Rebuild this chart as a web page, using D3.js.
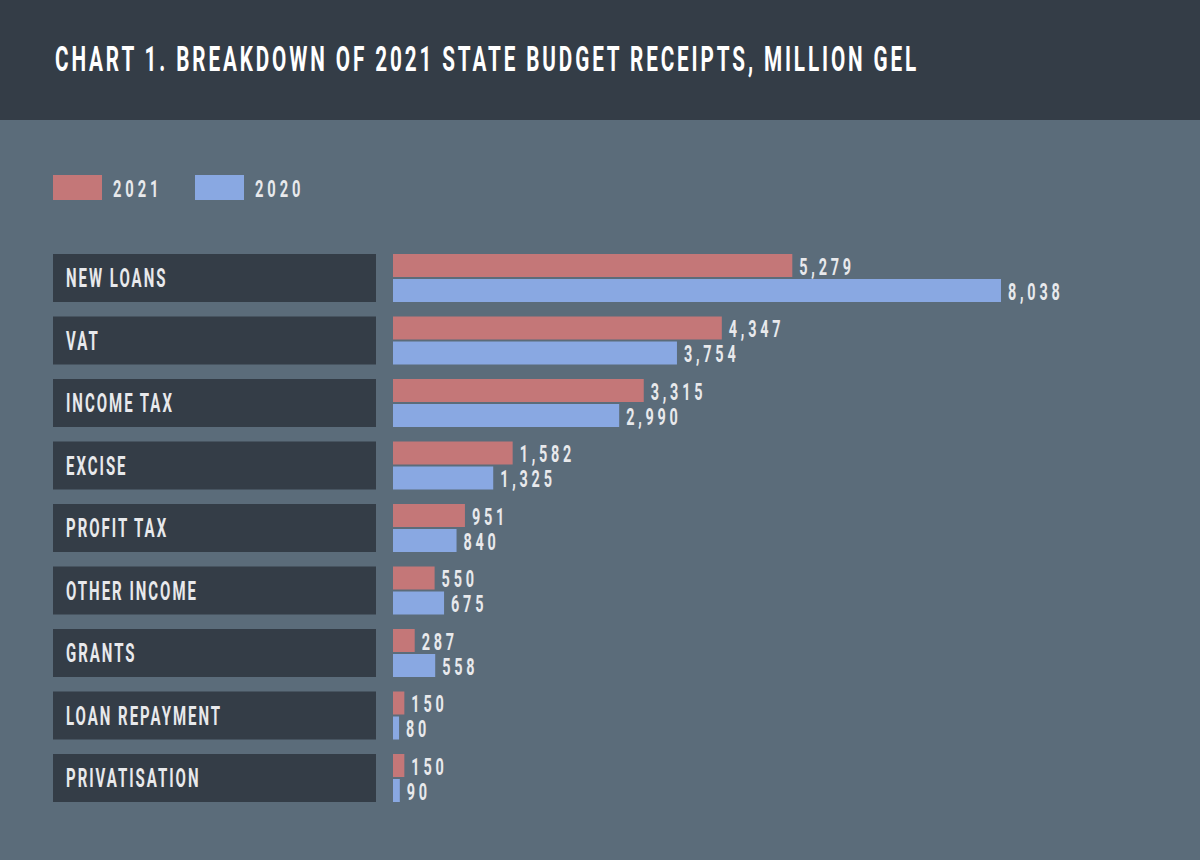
<!DOCTYPE html>
<html><head><meta charset="utf-8">
<script src="https://cdn.jsdelivr.net/npm/d3@7/dist/d3.min.js"></script>
<style>html,body{margin:0;padding:0;background:#5b6c7a;}svg{display:block;}</style>
</head><body>
<svg id="chart" width="1200" height="860"></svg>
<script>
const title = "CHART 1. BREAKDOWN OF 2021 STATE BUDGET RECEIPTS, MILLION GEL";
const categories = ["NEW LOANS","VAT","INCOME TAX","EXCISE","PROFIT TAX","OTHER INCOME","GRANTS","LOAN REPAYMENT","PRIVATISATION"];
const values2021 = [5279,4347,3315,1582,951,550,287,150,150];
const values2020 = [8038,3754,2990,1325,840,675,558,80,90];
const seriesNames = ["2021","2020"];
const colors = {"2021":"#c47778","2020":"#89a8e2"};

const svg = d3.select("#chart");
const W = 1200, H = 860;
const SX = 0.6;
const FONT = "Roboto, 'DejaVu Sans', sans-serif";
const TXT = "#e8e9ec";

function condText(g, str, x, y, size, spacing, fill){
  return g.append("text")
    .attr("transform", `translate(${x},${y}) scale(${SX},1)`)
    .attr("font-family", FONT).attr("font-weight", 700)
    .attr("font-size", size).attr("letter-spacing", spacing)
    .attr("fill", fill).text(str);
}

svg.append("rect").attr("width", W).attr("height", 120).attr("fill", "#343d47");
svg.append("rect").attr("y", 120).attr("width", W).attr("height", H - 120).attr("fill", "#5b6c7a");
condText(svg, title, 55, 71, 34.5, 4.8, "#ffffff");

// legend
const lg = svg.append("g");
const legX = {"2021":53, "2020":195};
seriesNames.forEach(s => {
  lg.append("rect").attr("x", legX[s]).attr("y", 175).attr("width", 49).attr("height", 25).attr("fill", colors[s]);
  condText(lg, s, legX[s] + 60, 197, 24.5, 6.5, TXT);
});

const y = d3.scaleBand().domain(categories).range([254, 802]).paddingInner(0.232);
const yi = d3.scaleBand().domain(seriesNames).range([0, y.bandwidth()]).paddingInner(0.08);
const x = d3.scaleLinear().domain([0, 8038]).range([393, 1001]);
const fmt = d3.format(",");

const rows = svg.append("g").selectAll("g").data(categories).join("g")
  .attr("transform", d => `translate(0,${y(d)})`);

rows.append("rect").attr("x", 53).attr("width", 323).attr("height", y.bandwidth()).attr("fill", "#343d47");
rows.each(function(d){ condText(d3.select(this), d, 66, y.bandwidth()/2 + 9, 25, 3.3, TXT); });

const data = categories.map((c,i) => ({c, vals:[{s:"2021", v:values2021[i]},{s:"2020", v:values2020[i]}]}));
rows.data(data).each(function(d){
  const g = d3.select(this);
  d.vals.forEach(o => {
    g.append("rect").attr("x", x(0)).attr("y", yi(o.s))
      .attr("width", x(o.v) - x(0)).attr("height", yi.bandwidth()).attr("fill", colors[o.s]);
    condText(g, fmt(o.v), x(o.v) + 7, yi(o.s) + yi.bandwidth() - 2.5, 24, 6.3, TXT);
  });
});
</script>
</body></html>
